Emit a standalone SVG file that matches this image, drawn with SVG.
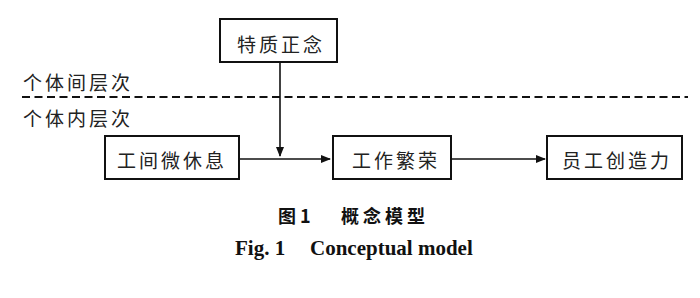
<svg xmlns="http://www.w3.org/2000/svg" width="700" height="298" viewBox="0 0 700 298">
<style>
.box{fill:#fff;stroke:#111;stroke-width:2}
.lbl{font-family:"Noto Sans CJK SC","Liberation Sans",sans-serif;font-size:19px;fill:#222;letter-spacing:3px;dominant-baseline:central}
.conn{stroke:#111;stroke-width:1.6;fill:none}
.cap{font-family:"Noto Sans CJK SC",sans-serif;font-weight:bold;font-size:18px;fill:#111;dominant-baseline:central}
.en{font-family:"Liberation Serif","Times New Roman",serif;font-weight:bold;font-size:21px;fill:#111}
</style>
<defs>
<marker id="ah" markerWidth="10" markerHeight="8" refX="9" refY="4" orient="auto" markerUnits="userSpaceOnUse">
<path d="M0,0 L10,4 L0,8 Z" fill="#111"/>
</marker>
</defs>
<rect width="700" height="298" fill="#fff"/>
<line x1="22" y1="97" x2="688" y2="97" stroke="#111" stroke-width="2" stroke-dasharray="8,4.5"/>
<text class="lbl" x="23" y="81">个体间层次</text>
<text class="lbl" x="23" y="117">个体内层次</text>
<g id="connectors">
<line class="conn" x1="280" y1="62" x2="280" y2="156" marker-end="url(#ah)"/>
<line class="conn" x1="239" y1="159" x2="330" y2="159" marker-end="url(#ah)"/>
<line class="conn" x1="451" y1="159" x2="545" y2="159" marker-end="url(#ah)"/>
</g>
<g id="n1">
<rect class="box" x="220" y="19" width="117" height="43"/>
<text class="lbl" x="237" y="43">特质正念</text>
</g>
<g id="n2">
<rect class="box" x="105" y="136" width="134" height="43"/>
<text class="lbl" x="117" y="159">工间微休息</text>
</g>
<g id="n3">
<rect class="box" x="333" y="136" width="118" height="43"/>
<text class="lbl" x="352" y="159">工作繁荣</text>
</g>
<g id="n4">
<rect class="box" x="547" y="136" width="135" height="43"/>
<text class="lbl" x="562" y="159">员工创造力</text>
</g>
<text class="cap" x="278" y="215">图 1</text>
<text class="cap" x="341" y="215" letter-spacing="4">概念模型</text>
<text class="en" x="235" y="255">Fig. 1</text>
<text class="en" x="310" y="255">Conceptual model</text>
</svg>
